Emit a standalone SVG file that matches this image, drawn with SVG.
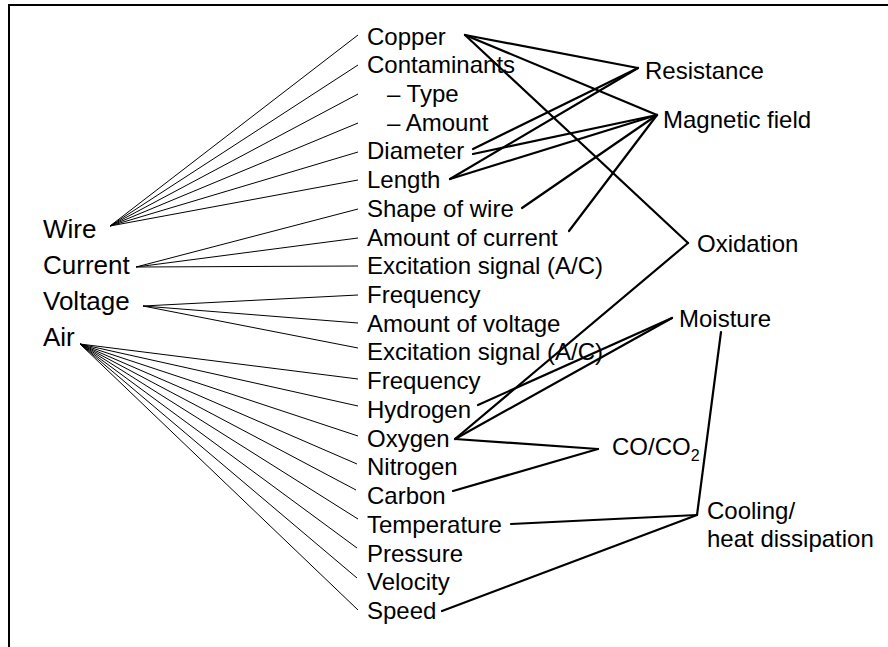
<svg xmlns="http://www.w3.org/2000/svg" width="888" height="647" viewBox="0 0 888 647">
<style>
text{font-family:"Liberation Sans",Arial,sans-serif;fill:#000}
.m{font-size:24px}
.l{font-size:26px}
.thin{stroke:#000;stroke-width:1;fill:none}
.thick{stroke:#000;stroke-width:2.2;fill:none;stroke-linecap:round}
</style>
<rect width="888" height="647" fill="#fff"/>
<path d="M9,647 V5 H888" fill="none" stroke="#000" stroke-width="2"/>
<g id="connectors">
<g class="thin">
<line x1="110" y1="226" x2="358" y2="35"/>
<line x1="110" y1="226" x2="358" y2="65"/>
<line x1="110" y1="226" x2="358" y2="94"/>
<line x1="110" y1="226" x2="358" y2="123"/>
<line x1="110" y1="226" x2="358" y2="152"/>
<line x1="110" y1="226" x2="358" y2="180"/>
<line x1="136" y1="267" x2="358" y2="209"/>
<line x1="136" y1="267" x2="358" y2="238"/>
<line x1="136" y1="267" x2="358" y2="266"/>
<line x1="143" y1="306" x2="358" y2="295"/>
<line x1="143" y1="306" x2="358" y2="323"/>
<line x1="143" y1="306" x2="358" y2="348"/>
<line x1="80" y1="344" x2="358" y2="379"/>
<line x1="80" y1="344" x2="358" y2="406"/>
<line x1="80" y1="344" x2="358" y2="436"/>
<line x1="80" y1="344" x2="357" y2="464"/>
<line x1="80" y1="344" x2="356" y2="490"/>
<line x1="80" y1="344" x2="358" y2="519"/>
<line x1="80" y1="344" x2="357" y2="548"/>
<line x1="80" y1="344" x2="357" y2="578"/>
<line x1="80" y1="344" x2="358" y2="610"/>
</g>
<g class="thick">
<line x1="465" y1="35" x2="638" y2="68"/>
<line x1="465" y1="35" x2="657" y2="115"/>
<line x1="465" y1="35" x2="688" y2="243"/>
<line x1="473" y1="149" x2="638" y2="68"/>
<line x1="473" y1="154" x2="657" y2="115"/>
<line x1="450" y1="179" x2="638" y2="68"/>
<line x1="450" y1="179" x2="657" y2="115"/>
<line x1="522" y1="208" x2="657" y2="115"/>
<line x1="569" y1="231" x2="657" y2="115"/>
<line x1="455" y1="439" x2="688" y2="243"/>
<line x1="455" y1="439" x2="672" y2="318"/>
<line x1="478" y1="405" x2="672" y2="318"/>
<line x1="455" y1="439" x2="598" y2="449"/>
<line x1="453" y1="491" x2="598" y2="449"/>
<line x1="511" y1="524" x2="697" y2="515"/>
<line x1="442" y1="611" x2="697" y2="515"/>
<line x1="721" y1="332" x2="697" y2="515"/>
</g>
</g>
<g id="wire"><text class="l" x="43" y="238">Wire</text></g>
<g id="current"><text class="l" x="43" y="274">Current</text></g>
<g id="voltage"><text class="l" x="43" y="310">Voltage</text></g>
<g id="air"><text class="l" x="43" y="346">Air</text></g>
<g id="copper"><text class="m" x="367" y="44.5">Copper</text></g>
<g id="contaminants"><text class="m" x="367" y="73.2">Contaminants</text></g>
<g id="type"><text class="m" x="387" y="101.9">– Type</text></g>
<g id="amount"><text class="m" x="387" y="130.7">– Amount</text></g>
<g id="diameter"><text class="m" x="367" y="159.4">Diameter</text></g>
<g id="length"><text class="m" x="367" y="188.1">Length</text></g>
<g id="shape"><text class="m" x="367" y="216.8">Shape of wire</text></g>
<g id="amount-current"><text class="m" x="367" y="245.5">Amount of current</text></g>
<g id="excitation1"><text class="m" x="367" y="274.3">Excitation signal (A/C)</text></g>
<g id="frequency1"><text class="m" x="367" y="303">Frequency</text></g>
<g id="amount-voltage"><text class="m" x="367" y="331.7">Amount of voltage</text></g>
<g id="excitation2"><text class="m" x="367" y="360.4">Excitation signal (A/C)</text></g>
<g id="frequency2"><text class="m" x="367" y="389.1">Frequency</text></g>
<g id="hydrogen"><text class="m" x="367" y="417.9">Hydrogen</text></g>
<g id="oxygen"><text class="m" x="367" y="446.6">Oxygen</text></g>
<g id="nitrogen"><text class="m" x="367" y="475.3">Nitrogen</text></g>
<g id="carbon"><text class="m" x="367" y="504">Carbon</text></g>
<g id="temperature"><text class="m" x="367" y="532.7">Temperature</text></g>
<g id="pressure"><text class="m" x="367" y="561.5">Pressure</text></g>
<g id="velocity"><text class="m" x="367" y="590.2">Velocity</text></g>
<g id="speed"><text class="m" x="367" y="618.9">Speed</text></g>
<g id="resistance"><text class="m" x="645" y="79.3">Resistance</text></g>
<g id="magnetic"><text class="m" x="663" y="128.3">Magnetic field</text></g>
<g id="oxidation"><text class="m" x="697" y="251.7">Oxidation</text></g>
<g id="moisture"><text class="m" x="679" y="327.3">Moisture</text></g>
<g id="co"><text class="m" x="612" y="455">CO/CO<tspan font-size="16" dy="6">2</tspan></text></g>
<g id="cooling"><text class="m" x="707" y="519.3">Cooling/</text><text class="m" x="707" y="546.7">heat dissipation</text></g>
</svg>
